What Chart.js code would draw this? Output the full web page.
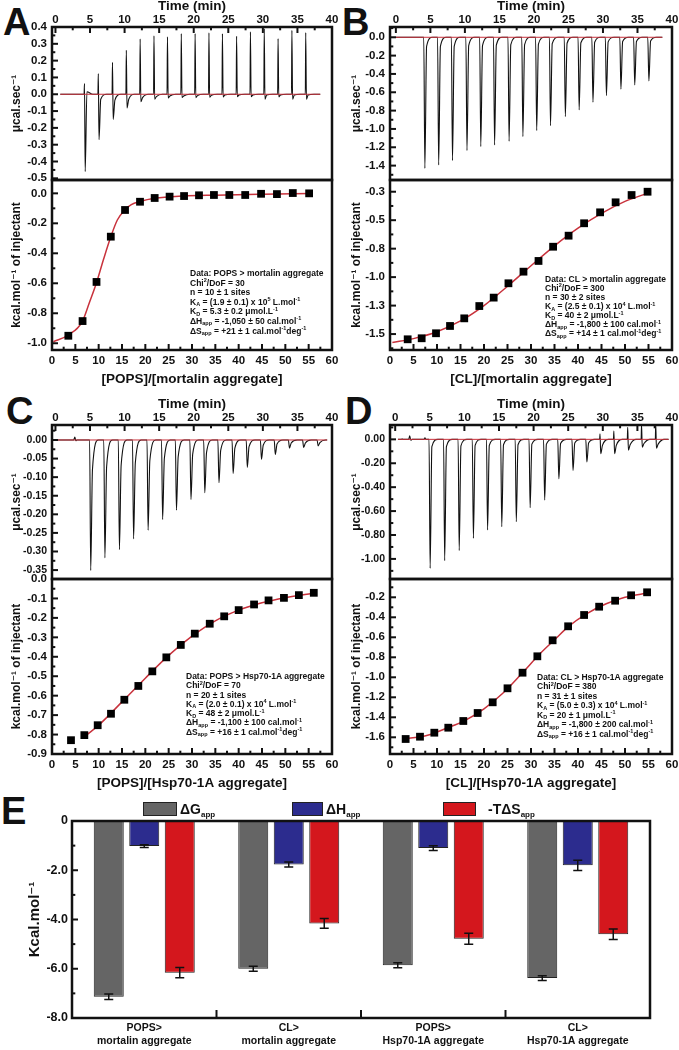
<!DOCTYPE html>
<html>
<head>
<meta charset="utf-8">
<script src="https://cdn.jsdelivr.net/npm/chart.js@4.4.1/dist/chart.umd.min.js"></script>
<style>
  html, body { margin: 0; padding: 0; background: #fff; overflow: hidden; }
  #fig { position: relative; width: 679px; height: 1050px; font-family: "Liberation Sans", Arial, sans-serif; color: #111; }
  canvas { position: absolute; }
  .tag { position: absolute; font-weight: bold; font-size: 38px; line-height: 1; }
  .info { position: absolute; font-weight: bold; font-size: 8.5px; white-space: nowrap; }
  .info sub, .info sup { font-size: 5.5px; vertical-align: baseline; position: relative; line-height: 0; }
  .info sub { top: 1.5px; }
  .info sup { top: -3.5px; }
  .sw { position: absolute; height: 14px; border: 1px solid #222; box-sizing: border-box; }
  .lg { position: absolute; font-weight: bold; font-size: 14px; line-height: 1; white-space: nowrap; }
  .lg sub { font-size: 8px; vertical-align: baseline; position: relative; top: 3px; }
</style>
</head>
<body>
<div id="fig">
  <div class="tag" style="left:3px;top:3px">A</div>
  <div class="tag" style="left:342px;top:3px">B</div>
  <div class="tag" style="left:6px;top:392px">C</div>
  <div class="tag" style="left:345px;top:392px">D</div>
  <div class="tag" style="left:1px;top:792px">E</div>
</div>
<script>
// shared tick labels
const timeTicks = [0, 5, 10, 15, 20, 25, 30, 35, 40];
const ratioTicks = [0, 5, 10, 15, 20, 25, 30, 35, 40, 45, 50, 55, 60];

// ---- A: POPS > mortalin aggregate ----
const aTime = [4.2, 6.2, 8.25, 10.25, 12.25, 14.25, 16.2, 18.2, 20.2, 22.2, 24.15, 26.2, 28.2, 30.2, 32.2, 34.2, 36.2];
const aUp = [0.064, 0.123, 0.19, 0.262, 0.329, 0.347, 0.341, 0.361, 0.361, 0.365, 0.36, 0.345, 0.371, 0.39, 0.331, 0.38, 0.367];
const aDown = [-0.46, -0.27, -0.15, -0.082, -0.045, -0.03, -0.022, -0.02, -0.02, -0.018, -0.016, -0.015, -0.015, -0.03, -0.015, -0.03, -0.03];
const aTail = [0.015, -0.03, -0.035, -0.03, -0.02, -0.014, -0.01, -0.01, -0.008, -0.006, -0.005, -0.005, -0.005, -0.005, -0.004, -0.004, -0.004];
const aRun = [0.7, 38.3];
const aRatio = [3.5, 6.55, 9.54, 12.6, 15.65, 18.86, 22.0, 25.2, 28.3, 31.5, 34.7, 38.0, 41.4, 44.8, 48.2, 51.6, 55.1];
const aHeat = [-0.95, -0.852, -0.591, -0.289, -0.111, -0.056, -0.031, -0.022, -0.018, -0.013, -0.011, -0.011, -0.011, -0.003, -0.005, 0.002, 0.0];
const aFitX = [0.3, 3.5, 6.5, 8, 9.5, 11, 12.6, 14, 15.6, 17, 18.8, 22, 28, 35, 45, 55.3];
const aFitY = [-0.99, -0.945, -0.855, -0.73, -0.6, -0.445, -0.29, -0.178, -0.11, -0.075, -0.055, -0.033, -0.018, -0.012, -0.006, -0.001];
const aTopTicks = [0.4, 0.3, 0.2, 0.1, 0.0, -0.1, -0.2, -0.3, -0.4, -0.5];
const aBotTicks = [0.0, -0.2, -0.4, -0.6, -0.8, -1.0];

// ---- B: CL > mortalin aggregate ----
const bTime = [4.1, 6.1, 8.1, 10.2, 12.2, 14.2, 16.3, 18.3, 20.3, 22.3, 24.45, 26.45, 28.45, 30.4, 32.5, 34.5, 36.55];
const bDown = [-1.43, -1.393, -1.345, -1.236, -1.193, -1.175, -1.135, -1.084, -1.018, -0.964, -0.865, -0.793, -0.709, -0.636, -0.567, -0.52, -0.476];
const bTail = [-0.1, -0.1, -0.1, -0.09, -0.09, -0.085, -0.08, -0.08, -0.075, -0.07, -0.065, -0.06, -0.055, -0.05, -0.045, -0.045, -0.04];
const bRun = [0.0, 38.6];
const bRatio = [3.76, 6.74, 9.79, 12.77, 15.8, 19.0, 22.06, 25.2, 28.4, 31.6, 34.7, 38.0, 41.3, 44.7, 48.0, 51.4, 54.8];
const bHeat = [-1.546, -1.537, -1.493, -1.429, -1.362, -1.254, -1.18, -1.054, -0.952, -0.858, -0.733, -0.636, -0.527, -0.431, -0.343, -0.279, -0.25];
const bFitX = [0.5, 5, 10, 15, 20, 25, 30, 35, 40, 45, 50, 55];
const bFitY = [-1.575, -1.54, -1.48, -1.385, -1.25, -1.08, -0.9, -0.725, -0.57, -0.44, -0.335, -0.26];
const bTopTicks = [0.0, -0.2, -0.4, -0.6, -0.8, -1.0, -1.2, -1.4];
const bBotTicks = [-0.25, -0.5, -0.75, -1.0, -1.25, -1.5];

// ---- C: POPS > Hsp70-1A aggregate ----
const cTime = [5.0, 7.05, 9.15, 11.2, 13.3, 15.4, 17.4, 19.5, 21.5, 23.55, 25.6, 27.65, 29.7, 31.7, 33.75, 35.8, 37.9];
const cDown = [-0.351, -0.317, -0.295, -0.266, -0.243, -0.214, -0.189, -0.16, -0.142, -0.115, -0.09, -0.074, -0.052, -0.039, -0.022, -0.02, -0.016];
const cTail = [-0.08, -0.072, -0.068, -0.062, -0.056, -0.05, -0.045, -0.038, -0.034, -0.028, -0.022, -0.018, -0.014, -0.011, -0.008, -0.008, -0.007];
const cNoise = [[2.65, 0], [2.8, 0.008], [2.95, -0.002], [3.1, 0]];
const cRun = [0.3, 39.3];
const cRatio = [4.07, 6.93, 9.79, 12.64, 15.5, 18.5, 21.5, 24.5, 27.6, 30.6, 33.8, 36.9, 40.0, 43.3, 46.4, 49.7, 52.9, 56.1];
const cHeat = [-0.829, -0.803, -0.752, -0.693, -0.621, -0.55, -0.475, -0.403, -0.339, -0.281, -0.23, -0.192, -0.16, -0.131, -0.11, -0.097, -0.083, -0.071];
const cFitX = [7.5, 10, 15, 20, 25, 30, 35, 40, 45, 50, 56.3];
const cFitY = [-0.8, -0.752, -0.632, -0.51, -0.393, -0.294, -0.215, -0.16, -0.122, -0.096, -0.072];
const cTopTicks = [0.0, -0.05, -0.1, -0.15, -0.2, -0.25, -0.3, -0.35];
const cBotTicks = [0.0, -0.1, -0.2, -0.3, -0.4, -0.5, -0.6, -0.7, -0.8, -0.9];

// ---- D: CL > Hsp70-1A aggregate ----
const dTime = [4.95, 7.05, 9.15, 11.2, 13.25, 15.3, 17.4, 19.4, 21.5, 23.55, 25.6, 27.6, 29.6, 31.6, 33.6, 35.6, 37.65];
const dUp = [0, 0, 0, 0, 0, 0, 0, 0, 0, 0, 0, 0, 0.047, 0.07, 0.1, 0.125, 0.13];
const dDown = [-1.079, -1.015, -0.931, -0.828, -0.758, -0.731, -0.689, -0.572, -0.508, -0.33, -0.26, -0.19, -0.12, -0.12, -0.09, -0.065, -0.075];
const dTail = [-0.06, -0.06, -0.055, -0.05, -0.05, -0.045, -0.045, -0.04, -0.04, -0.035, -0.03, -0.03, -0.05, -0.05, -0.045, -0.035, -0.04];
const dNoise = [[0.9, 0], [1.0, 0.004], [1.1, 0], [1.95, 0], [2.1, 0.03], [2.25, -0.008], [2.45, 0], [4.15, 0], [4.3, 0.012], [4.45, 0]];
const dRun = [0.4, 39.5];
const dRatio = [3.33, 6.38, 9.43, 12.4, 15.6, 18.65, 21.85, 25.0, 28.2, 31.35, 34.6, 37.9, 41.3, 44.5, 47.9, 51.3, 54.7];
const dHeat = [-1.617, -1.594, -1.554, -1.504, -1.437, -1.357, -1.25, -1.11, -0.954, -0.79, -0.63, -0.49, -0.377, -0.294, -0.234, -0.18, -0.15];
const dFitX = [3.3, 8, 12, 16, 20, 24, 28, 32, 35, 38, 42, 46, 50, 55];
const dFitY = [-1.615, -1.58, -1.51, -1.43, -1.315, -1.16, -0.965, -0.76, -0.625, -0.49, -0.36, -0.265, -0.2, -0.155];
const dTopTicks = [0.0, -0.2, -0.4, -0.6, -0.8, -1.0];
const dBotTicks = [-0.2, -0.4, -0.6, -0.8, -1.0, -1.2, -1.4, -1.6];

// ---- E: thermodynamic summary ----
const groups = [['POPS>', 'mortalin aggregate'], ['CL>', 'mortalin aggregate'], ['POPS>', 'Hsp70-1A aggregate'], ['CL>', 'Hsp70-1A aggregate']];
const dG = [-7.14, -6.0, -5.86, -6.38];
const dGErr = [0.11, 0.1, 0.1, 0.1];
const dH = [-1.02, -1.77, -1.1, -1.8];
const dHErr = [0.06, 0.1, 0.1, 0.21];
const tdS = [-6.16, -4.16, -4.78, -4.6];
const tdSErr = [0.21, 0.2, 0.22, 0.21];
const eTicks = [0, -2, -4, -6, -8];

Chart.defaults.font.family = '"Liberation Sans", Arial, "DejaVu Sans", sans-serif';
Chart.defaults.color = '#111';

const fig = document.getElementById('fig');
const RED = '#c8323c';
const NOGRID = { display: false, drawTicks: false };

function addCanvas(x, y, w, h) {
    const c = document.createElement('canvas');
    c.width = w;
    c.height = h;
    c.style.left = x + 'px';
    c.style.top = y + 'px';
    fig.appendChild(c);
    return c;
}

function pts(xs, ys) {
    return xs.map((x, i) => ({ x: x, y: ys[i] }));
}

// thermogram: baseline, optional upward spike, main peak, tail, back to baseline
function trace(run, times, up, down, tail, extra) {
    const p = [{ x: run[0], y: 0 }];
    times.forEach((t, i) => {
        p.push({ x: t - 0.06, y: 0 });
        if (up[i]) p.push({ x: t, y: up[i] });
        p.push({ x: t + 0.1, y: down[i] });
        p.push({ x: t + 0.35, y: tail[i] });
        p.push({ x: t + 1.2, y: 0 });
    });
    p.push({ x: run[1], y: 0 });
    extra.forEach(e => p.push({ x: e[0], y: e[1] }));
    return p.sort((a, b) => a.x - b.x);
}

// box frame + inward tick marks
function frame(marks) {
    return {
        id: 'frame',
        afterDatasetsDraw(chart) {
            const a = chart.chartArea, ctx = chart.ctx;
            ctx.save();
            ctx.strokeStyle = '#111';
            ctx.lineWidth = 2;
            marks.forEach(m => {
                const s = chart.scales[m.axis];
                const list = [];
                if (m.between) {
                    for (let i = 0; i < s.ticks.length - 1; i++) {
                        list.push([(s.getPixelForTick(i) + s.getPixelForTick(i + 1)) / 2, m.len]);
                    }
                } else {
                    for (let k = Math.ceil(s.min / m.minor - 1e-6); k * m.minor <= s.max + 1e-9; k++) {
                        const r = k * m.minor / m.major;
                        const major = Math.abs(r - Math.round(r)) < 1e-6;
                        list.push([s.getPixelForValue(k * m.minor), major ? m.len : m.len * 0.55]);
                    }
                }
                list.forEach(([p, len]) => {
                    ctx.beginPath();
                    if (m.side === 'left') { ctx.moveTo(a.left, p); ctx.lineTo(a.left + len, p); }
                    else if (m.side === 'top') { ctx.moveTo(p, a.top); ctx.lineTo(p, a.top + len); }
                    else { ctx.moveTo(p, a.bottom); ctx.lineTo(p, a.bottom - len); }
                    ctx.stroke();
                });
            });
            ctx.lineWidth = 2.5;
            ctx.strokeRect(a.left, a.top, a.right - a.left, a.bottom - a.top);
            ctx.restore();
        }
    };
}

function itc(o) {
    const [l, t, r, b] = o.area;
    const cx = o.x0;
    const cy = o.top ? t - 27 : t - 14;
    const cw = r + 14 - cx;
    const ch = o.top ? b + 14 - cy : b + 36 - cy;
    const cv = addCanvas(cx, cy, cw, ch);
    return new Chart(cv, {
        type: 'scatter',
        data: { datasets: o.datasets },
        options: {
            responsive: false,
            animation: false,
            layout: { padding: { left: 0, right: 14, top: o.top ? 0 : 14, bottom: o.top ? 14 : 0 } },
            plugins: { legend: { display: false }, tooltip: { enabled: false } },
            scales: {
                x: {
                    type: 'linear',
                    position: o.top ? 'top' : 'bottom',
                    min: o.xMin, max: o.xMax,
                    grid: NOGRID, border: { display: false },
                    afterBuildTicks: s => { s.ticks = o.xTicks.map(v => ({ value: v })); },
                    afterFit: s => { s.height = o.top ? 27 : 36; },
                    ticks: { font: { size: 11.5, weight: 'bold' }, padding: o.top ? 0 : 4, maxRotation: 0, autoSkip: false },
                    title: { display: true, text: o.xTitle, font: { size: 13.5, weight: 'bold', lineHeight: 1 }, padding: 0 }
                },
                y: {
                    type: 'linear',
                    min: o.yMin, max: o.yMax,
                    grid: NOGRID, border: { display: false },
                    afterBuildTicks: s => { s.ticks = o.yTicks.map(v => ({ value: v })); },
                    afterFit: s => { s.width = l - cx; },
                    ticks: { font: { size: o.yFont || 11.5, weight: 'bold' }, padding: 5, autoSkip: false, callback: v => v.toFixed(o.dec) },
                    title: { display: true, text: o.yTitle, font: { size: 12, weight: 'bold' }, padding: { top: 9, bottom: 0 } }
                }
            }
        },
        plugins: [frame(o.marks)]
    });
}

function topSets(run, tr) {
    return [
        { data: pts(run, [0, 0]), showLine: true, borderColor: RED, borderWidth: 1, pointRadius: 0 },
        { data: tr, showLine: true, borderColor: '#111', borderWidth: 1.1, pointRadius: 0, cubicInterpolationMode: 'monotone' }
    ];
}

function botSets(xs, ys, fx, fy) {
    return [
        { data: pts(xs, ys), pointStyle: 'rect', pointRadius: 5.5, backgroundColor: '#000', borderColor: '#000', borderWidth: 0 },
        { data: pts(fx, fy), showLine: true, borderColor: RED, borderWidth: 1.5, pointRadius: 0, cubicInterpolationMode: 'monotone' }
    ];
}

const timeMarks = (ys) => [{ axis: 'x', side: 'top', minor: 2.5, major: 5, len: 6 }, ys];
const ratioMarks = (ys) => [{ axis: 'x', side: 'bottom', minor: 2.5, major: 5, len: 6 }, ys];
const TOPX = { xTitle: 'Time (min)', xTicks: timeTicks, xMax: 40, top: true, yTitle: 'μcal.sec⁻¹' };
const BOTX = { xTitle: '', xMin: 0, xMax: 60, xTicks: ratioTicks, top: false, yTitle: 'kcal.mol⁻¹ of injectant', dec: 1 };

// panel A
itc(Object.assign({}, TOPX, { x0: 0, area: [52, 27, 332, 180], xMin: -0.5, yMin: -0.51, yMax: 0.4, yTicks: aTopTicks, dec: 1,
    marks: timeMarks({ axis: 'y', side: 'left', minor: 0.05, major: 0.1, len: 6 }),
    datasets: topSets(aRun, trace(aRun, aTime, aUp, aDown, aTail, [])) }));
itc(Object.assign({}, BOTX, { x0: 0, area: [52, 180, 332, 350], xTitle: '[POPS]/[mortalin aggregate]', yMin: -1.045, yMax: 0.089, yTicks: aBotTicks,
    marks: ratioMarks({ axis: 'y', side: 'left', minor: 0.1, major: 0.2, len: 6 }),
    datasets: botSets(aRatio, aHeat, aFitX, aFitY) }));

// panel B
itc(Object.assign({}, TOPX, { x0: 340, area: [390, 27, 672, 180], xMin: -0.85, yMin: -1.557, yMax: 0.112, yTicks: bTopTicks, dec: 1,
    marks: timeMarks({ axis: 'y', side: 'left', minor: 0.1, major: 0.2, len: 6 }),
    datasets: topSets(bRun, trace(bRun, bTime, [], bDown, bTail, [])) }));
itc(Object.assign({}, BOTX, { x0: 340, area: [390, 180, 672, 350], xTitle: '[CL]/[mortalin aggregate]', yMin: -1.64, yMax: -0.147, yTicks: bBotTicks,
    marks: ratioMarks({ axis: 'y', side: 'left', minor: 0.125, major: 0.25, len: 6 }),
    datasets: botSets(bRatio, bHeat, bFitX, bFitY) }));

// panel C
itc(Object.assign({}, TOPX, { x0: 0, area: [52, 425, 332, 579], xMin: -0.5, yMin: -0.374, yMax: 0.0403, yTicks: cTopTicks, dec: 2, yFont: 10.5,
    marks: timeMarks({ axis: 'y', side: 'left', minor: 0.025, major: 0.05, len: 6 }),
    datasets: topSets(cRun, trace(cRun, cTime, [], cDown, cTail, cNoise)) }));
itc(Object.assign({}, BOTX, { x0: 0, area: [52, 579, 332, 754], xTitle: '[POPS]/[Hsp70-1A aggregate]', yMin: -0.9, yMax: 0, yTicks: cBotTicks,
    marks: ratioMarks({ axis: 'y', side: 'left', minor: 0.05, major: 0.1, len: 6 }),
    datasets: botSets(cRatio, cHeat, cFitX, cFitY) }));

// panel D
itc(Object.assign({}, TOPX, { x0: 340, area: [390, 425, 672, 579], xMin: -0.75, yMin: -1.168, yMax: 0.12, yTicks: dTopTicks, dec: 2, yFont: 10.5,
    marks: timeMarks({ axis: 'y', side: 'left', minor: 0.1, major: 0.2, len: 6 }),
    datasets: topSets(dRun, trace(dRun, dTime, dUp, dDown, dTail, dNoise)) }));
itc(Object.assign({}, BOTX, { x0: 340, area: [390, 579, 672, 754], xTitle: '[CL]/[Hsp70-1A aggregate]', yMin: -1.767, yMax: -0.017, yTicks: dBotTicks,
    marks: ratioMarks({ axis: 'y', side: 'left', minor: 0.1, major: 0.2, len: 6 }),
    datasets: botSets(dRatio, dHeat, dFitX, dFitY) }));

// panel E
const errPlugin = {
    id: 'errBars',
    afterDatasetsDraw(chart) {
        const ctx = chart.ctx, y = chart.scales.y;
        ctx.save();
        ctx.strokeStyle = '#111';
        ctx.lineWidth = 1.5;
        chart.data.datasets.forEach((ds, i) => {
            chart.getDatasetMeta(i).data.forEach((bar, j) => {
                const v = ds.data[j], e = ds.errors[j];
                const y1 = y.getPixelForValue(v + e), y2 = y.getPixelForValue(v - e);
                ctx.beginPath();
                ctx.moveTo(bar.x, y1); ctx.lineTo(bar.x, y2);
                ctx.moveTo(bar.x - 4.5, y1); ctx.lineTo(bar.x + 4.5, y1);
                ctx.moveTo(bar.x - 4.5, y2); ctx.lineTo(bar.x + 4.5, y2);
                ctx.stroke();
            });
        });
        ctx.restore();
    }
};

const eCanvas = addCanvas(0, 795, 679, 255);
new Chart(eCanvas, {
    type: 'bar',
    data: {
        labels: groups,
        datasets: [
            { label: 'ΔGapp', data: dG, errors: dGErr, backgroundColor: '#656565', borderColor: '#222', borderWidth: 1 },
            { label: 'ΔHapp', data: dH, errors: dHErr, backgroundColor: '#2c2c8e', borderColor: '#222', borderWidth: 1 },
            { label: '-TΔSapp', data: tdS, errors: tdSErr, backgroundColor: '#d4171d', borderColor: '#222', borderWidth: 1 }
        ]
    },
    options: {
        responsive: false,
        animation: false,
        layout: { padding: { left: 0, right: 29, top: 26, bottom: 0 } },
        datasets: { bar: { categoryPercentage: 0.737, barPercentage: 0.845 } },
        plugins: { legend: { display: false }, tooltip: { enabled: false } },
        scales: {
            x: {
                grid: NOGRID, border: { display: false },
                afterFit: s => { s.height = 32; },
                ticks: { font: { size: 10.5, weight: 'bold', lineHeight: 1.3 }, padding: 3, maxRotation: 0, autoSkip: false }
            },
            y: {
                min: -8, max: 0,
                grid: NOGRID, border: { display: false },
                afterBuildTicks: s => { s.ticks = eTicks.map(v => ({ value: v })); },
                afterFit: s => { s.width = 72; },
                ticks: { font: { size: 12.5, weight: 'bold' }, padding: 4, callback: v => v === 0 ? '0' : v.toFixed(1) },
                title: { display: true, text: 'Kcal.mol⁻¹', font: { size: 15, weight: 'bold' }, padding: { top: 26, bottom: 0 } }
            }
        }
    },
    plugins: [errPlugin, frame([
        { axis: 'y', side: 'left', minor: 1, major: 2, len: 6 },
        { axis: 'x', side: 'bottom', between: true, len: 8 }
    ])]
});

// text overlays: fit results and legend
function info(x, y, lh, html) {
    const d = document.createElement('div');
    d.className = 'info';
    d.style.left = x + 'px';
    d.style.top = y + 'px';
    d.style.lineHeight = lh + 'px';
    d.innerHTML = html;
    fig.appendChild(d);
}

info(190, 269, 9.6,
    'Data: POPS &gt; mortalin aggregate<br>Chi<sup>2</sup>/DoF = 30<br>n = 10 ± 1 sites<br>' +
    'K<sub>A</sub> = (1.9 ± 0.1) x 10<sup>5</sup> L.mol<sup>-1</sup><br>K<sub>D</sub> = 5.3 ± 0.2 μmol.L<sup>-1</sup><br>' +
    'ΔH<sub>app</sub> = -1,050 ± 50 cal.mol<sup>-1</sup><br>ΔS<sub>app</sub> = +21 ± 1 cal.mol<sup>-1</sup>deg<sup>-1</sup>');
info(545, 274.8, 9.1,
    'Data: CL &gt; mortalin aggregate<br>Chi<sup>2</sup>/DoF = 300<br>n = 30 ± 2 sites<br>' +
    'K<sub>A</sub> = (2.5 ± 0.1) x 10<sup>4</sup> L.mol<sup>-1</sup><br>K<sub>D</sub> = 40 ± 2 μmol.L<sup>-1</sup><br>' +
    'ΔH<sub>app</sub> = -1,800 ± 100 cal.mol<sup>-1</sup><br>ΔS<sub>app</sub> = +14 ± 1 cal.mol<sup>-1</sup>deg<sup>-1</sup>');
info(186, 672, 9.27,
    'Data: POPS &gt; Hsp70-1A aggregate<br>Chi<sup>2</sup>/DoF = 70<br>n = 20 ± 1 sites<br>' +
    'K<sub>A</sub> = (2.0 ± 0.1) x 10<sup>4</sup> L.mol<sup>-1</sup><br>K<sub>D</sub> = 48 ± 2 μmol.L<sup>-1</sup><br>' +
    'ΔH<sub>app</sub> = -1,100 ± 100 cal.mol<sup>-1</sup><br>ΔS<sub>app</sub> = +16 ± 1 cal.mol<sup>-1</sup>deg<sup>-1</sup>');
info(537, 672.5, 9.57,
    'Data: CL &gt; Hsp70-1A aggregate<br>Chi<sup>2</sup>/DoF = 380<br>n = 31 ± 1 sites<br>' +
    'K<sub>A</sub> = (5.0 ± 0.3) x 10<sup>4</sup> L.mol<sup>-1</sup><br>K<sub>D</sub> = 20 ± 1 μmol.L<sup>-1</sup><br>' +
    'ΔH<sub>app</sub> = -1,800 ± 200 cal.mol<sup>-1</sup><br>ΔS<sub>app</sub> = +16 ± 1 cal.mol<sup>-1</sup>deg<sup>-1</sup>');

function legendItem(x, w, color, textX, html) {
    const s = document.createElement('div');
    s.className = 'sw';
    s.style.left = x + 'px';
    s.style.top = '802px';
    s.style.width = w + 'px';
    s.style.background = color;
    fig.appendChild(s);
    const t = document.createElement('div');
    t.className = 'lg';
    t.style.left = textX + 'px';
    t.style.top = '802px';
    t.innerHTML = html;
    fig.appendChild(t);
}
legendItem(143, 34, '#656565', 180, 'ΔG<sub>app</sub>');
legendItem(292, 31, '#2c2c8e', 326, 'ΔH<sub>app</sub>');
legendItem(443, 33, '#d4171d', 488, '-TΔS<sub>app</sub>');
</script>
</body>
</html>
